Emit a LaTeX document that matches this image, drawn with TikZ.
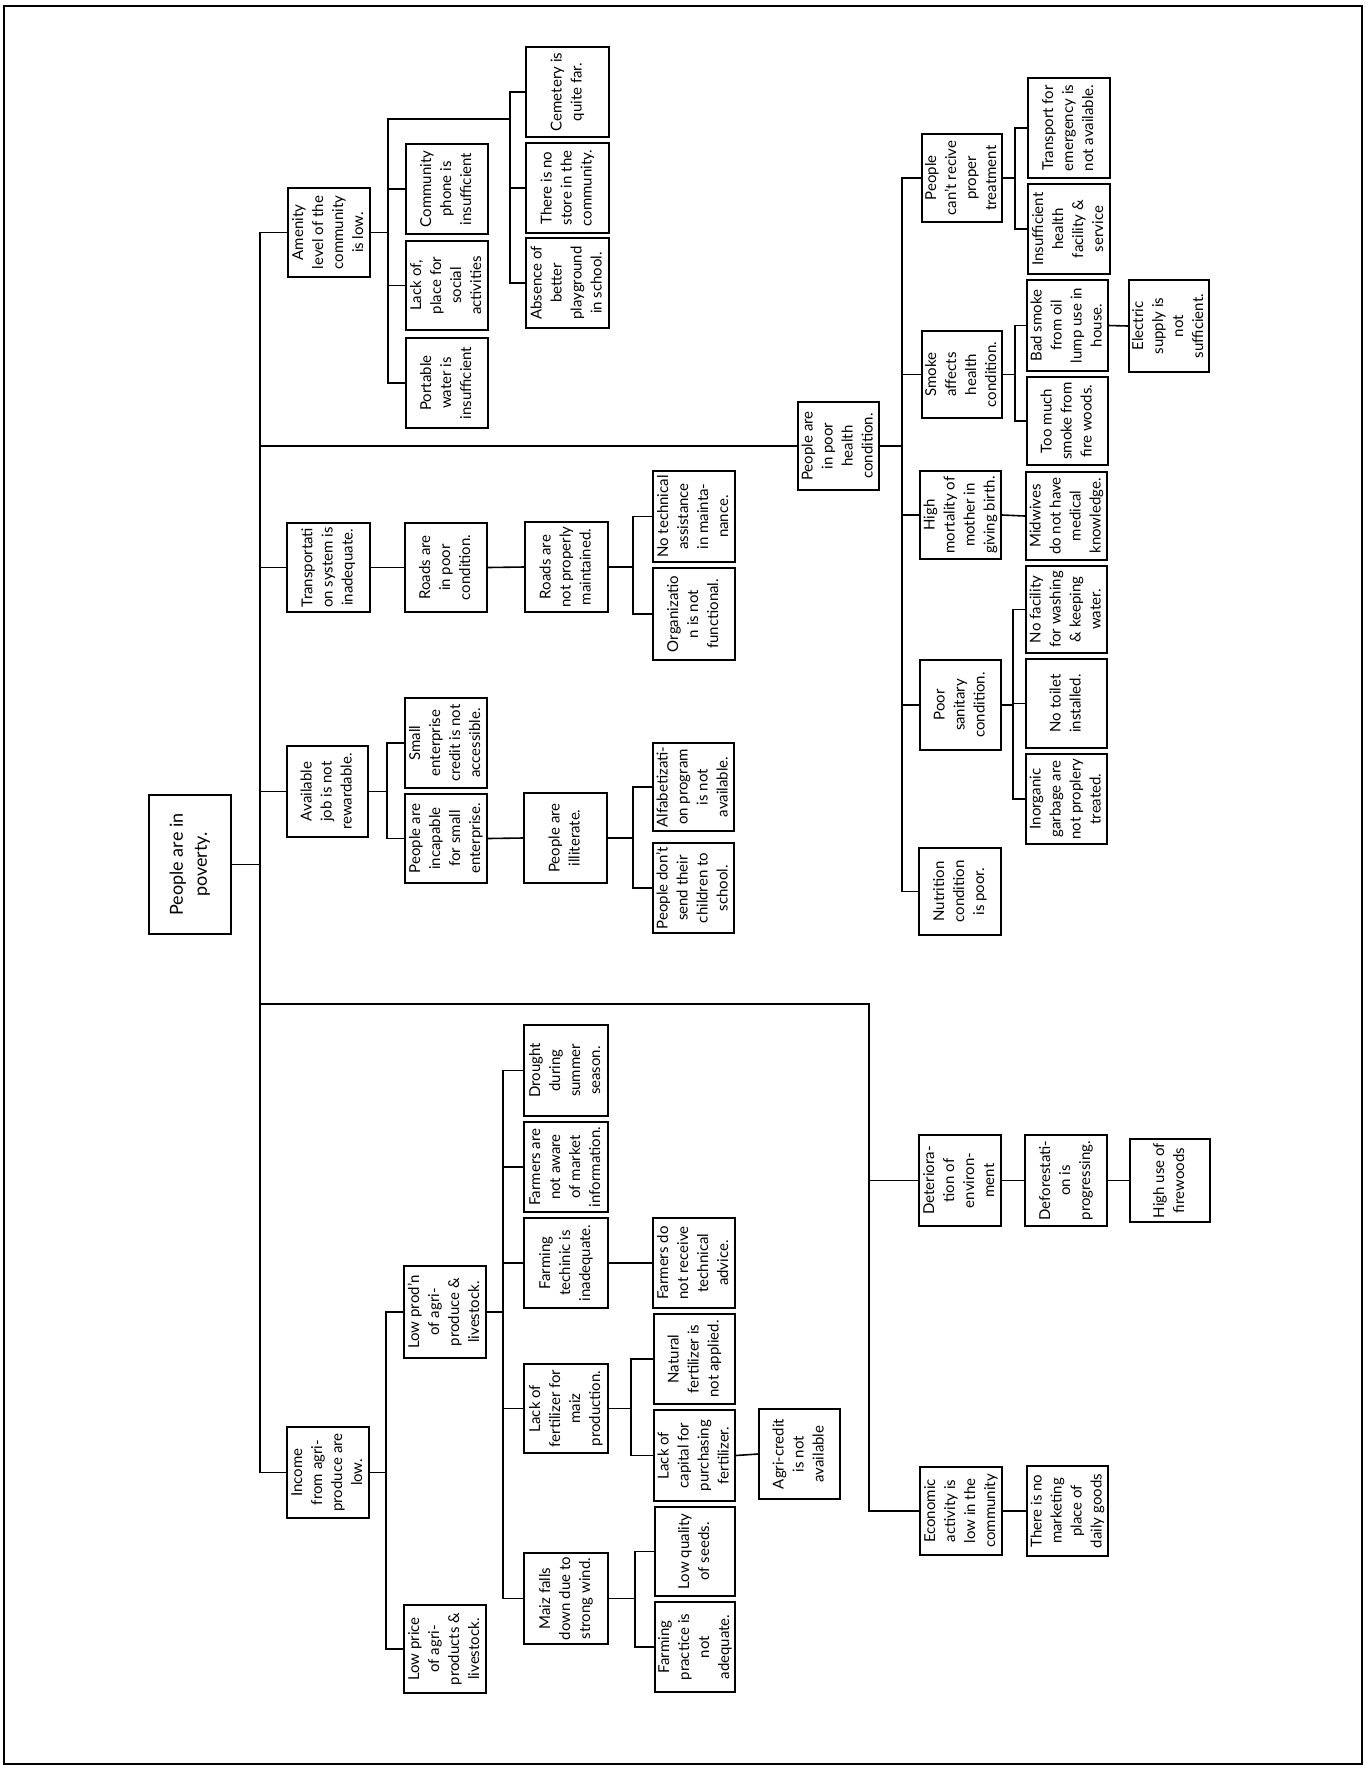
\documentclass[tikz,border=0pt]{standalone}
\usepackage{fontspec}
\setmainfont{Lato}
\usepackage{graphicx}
\newcommand\tbox[6]{\node[box,minimum width={(#4-#2)*0.5pt},minimum height={(#5-#3)*0.5pt}] (#1) at ({(#2+#4)/2},{(#3+#5)/2}) {\rotatebox{90}{\begin{tabular}{@{}c@{}}#6\end{tabular}}};}
\newcommand\busto[3]{\foreach \c in {#3} {\draw[conn] (#1.east) -| (#2,0 |- \c.west) -- (\c.west);}}
\begin{document}
\begin{tikzpicture}[x=0.5pt,y=-0.5pt,
  box/.style={draw,line width=0.9pt,inner sep=0pt,align=center,font=\fontsize{7.5}{10}\selectfont},
  conn/.style={line width=0.8pt}]
\useasboundingbox (0,0) rectangle (1366,1769);
\draw[line width=1pt] (4,6) rectangle (1362,1764);
% root
\node[box,minimum width=41pt,minimum height=69.5pt,font=\fontsize{9}{12}\selectfont] (root) at (190,864.5) {\rotatebox{90}{\begin{tabular}{@{}c@{}}People are in\\poverty.\end{tabular}}};
% level 1
\tbox{amen}{288}{188}{370}{277}{Amenity\\level of the\\community\\is low.}
\tbox{trans}{287}{523}{370}{612}{Transportati\\on system is\\inadequate.}
\tbox{job}{287}{746}{368}{837}{Available\\job is not\\rewardable.}
\tbox{income}{287}{1427}{369}{1518}{Income\\from agri-\\produce are\\low.}
\tbox{health}{798}{402}{879}{490}{People are\\in poor\\health\\condition.}
\tbox{deter}{919}{1135}{1001}{1226}{Deteriora-\\tion of\\environ-\\ment}
\tbox{econ}{920}{1467}{1002}{1555}{Economic\\activity is\\low in the\\community}
% amenity children
\tbox{comph}{406}{144}{488}{234}{Community\\phone is\\insufficient}
\tbox{lackplace}{406}{241}{488}{330}{Lack of,\\place for\\social\\activities}
\tbox{water}{406}{338}{488}{428}{Portable\\water is\\insufficient}
\tbox{cem}{526}{47}{609}{137}{Cemetery is\\quite far.}
\tbox{store}{526}{143}{609}{233}{There is no\\store in the\\community.}
\tbox{play}{526}{238}{609}{328}{Absence of\\better\\playground\\in school.}
% transport
\tbox{roads}{405}{523}{487}{612}{Roads are\\in poor\\condition.}
\tbox{maint}{525}{522}{608}{612}{Roads are\\not properly\\maintained.}
\tbox{notech}{653}{471}{735}{562}{No technical\\assistance\\in mainta-\\nance.}
\tbox{org}{653}{568}{735}{660}{Organizatio\\n is not\\functional.}
% job
\tbox{credit}{405}{698}{487}{788}{Small\\enterprise\\credit is not\\accessible.}
\tbox{incap}{405}{794}{487}{883}{People are\\incapable\\for small\\enterprise.}
\tbox{illit}{524}{793}{607}{883}{People are\\illiterate.}
\tbox{alfa}{653}{743}{734}{831}{Alfabetizati-\\on program\\is not\\available.}
\tbox{send}{653}{843}{734}{933}{People don't\\send their\\children to\\school.}
% health
\tbox{treat}{922}{134}{1002}{222}{People\\can't recive\\proper\\treatment}
\tbox{smoke}{922}{331}{1002}{418}{Smoke\\affects\\health\\condition.}
\tbox{mort}{920}{471}{1001}{559}{High\\mortality of\\mother in\\giving birth.}
\tbox{sanit}{920}{660}{1001}{750}{Poor\\sanitary\\condition.}
\tbox{nutr}{919}{848}{1001}{935}{Nutrition\\condition\\is poor.}
\tbox{temerg}{1028}{78}{1110}{178}{Transport for\\emergency is\\not available.}
\tbox{insuff}{1028}{184}{1110}{274}{Insufficient\\health\\facility \&\\service}
\tbox{bad}{1027}{280}{1108}{371}{Bad smoke\\from oil\\lump use in\\house.}
\tbox{toomuch}{1027}{377}{1108}{465}{Too much\\smoke from\\fire woods.}
\tbox{elec}{1129}{280}{1209}{372}{Electric\\supply is\\not\\sufficient.}
\tbox{midw}{1026}{472}{1107}{560}{Midwives\\do not have\\medical\\knowledge.}
\tbox{nofac}{1026}{566}{1107}{653}{No facility\\for washing\\\& keeping\\water.}
\tbox{toilet}{1026}{659}{1107}{748}{No toilet\\installed.}
\tbox{inorg}{1026}{754}{1107}{844}{Inorganic\\garbage are\\not proplery\\treated.}
% environment
\tbox{defor}{1025}{1135}{1107}{1226}{Deforestati-\\on is\\progressing.}
\tbox{firew}{1130}{1139}{1210}{1222}{High use of\\firewoods}
\tbox{market}{1027}{1466}{1108}{1556}{There is no\\marketing\\place of\\daily goods}
% income
\tbox{lowprod}{404}{1266}{486}{1358}{Low prod'n\\of agri-\\produce \&\\livestock.}
\tbox{lowprice}{404}{1605}{486}{1693}{Low price\\of agri-\\products \&\\livestock.}
\tbox{drought}{524}{1025}{608}{1116}{Drought\\during\\summer\\season.}
\tbox{aware}{524}{1122}{608}{1212}{Farmers are\\not aware\\of market\\information.}
\tbox{technic}{524}{1218}{608}{1308}{Farming\\techinic is\\inadequate.}
\tbox{lackfert}{524}{1364}{608}{1453}{Lack of\\fertilizer for\\maiz\\production.}
\tbox{maiz}{524}{1553}{608}{1644}{Maiz falls\\down due to\\strong wind.}
\tbox{advice}{653}{1218}{735}{1308}{Farmers do\\not receive\\technical\\advice.}
\tbox{natural}{654}{1314}{735}{1404}{Natural\\fertilizer is\\not applied.}
\tbox{capital}{654}{1410}{735}{1501}{Lack of\\capital for\\purchasing\\fertilizer.}
\tbox{agri}{759}{1409}{840}{1499}{Agri-credit\\is not\\available}
\tbox{seeds}{655}{1507}{735}{1596}{Low quality\\of seeds.}
\tbox{practice}{655}{1602}{735}{1692}{Farming\\practice is\\not\\adequate.}
% connectors: trunk
\busto{root}{260}{amen,health,trans,job,income}
\coordinate (dj) at (869,1004);
\draw[conn] (root.east) -| (260,0 |- dj) -- (dj) |- (deter.west);
\draw[conn] (dj) |- (econ.west);
% amenity
\busto{amen}{388}{comph,lackplace,water}
\coordinate (aj) at (388,119);
\coordinate (ak) at (510,119);
\draw[conn] (amen.east) -| (aj) -- (ak);
\foreach \c in {cem,store,play} {\draw[conn] (ak) |- (\c.west);}
% transport
\draw[conn] (trans.east) -- (roads.west);
\draw[conn] (roads.east) -- (maint.west);
\busto{maint}{633}{notech,org}
% job
\busto{job}{387}{credit,incap}
\draw[conn] (incap.east) -- (illit.west);
\busto{illit}{633}{alfa,send}
% health
\busto{health}{902}{treat,smoke,mort,sanit,nutr}
\busto{treat}{1015}{temerg,insuff}
\busto{smoke}{1015}{bad,toomuch}
\draw[conn] (bad.east) -- (elec.west);
\draw[conn] (mort.east) -- (midw.west);
\busto{sanit}{1013}{nofac,toilet,inorg}
% environment
\draw[conn] (deter.east) -- (defor.west);
\draw[conn] (defor.east) -- (firew.west);
\draw[conn] (econ.east) -- (market.west);
% income
\busto{income}{386}{lowprod,lowprice}
\busto{lowprod}{503}{drought,aware,technic,lackfert,maiz}
\draw[conn] (technic.east) -- (advice.west);
\busto{lackfert}{631}{natural,capital}
\draw[conn] (capital.east) -- (agri.west);
\busto{maiz}{635}{seeds,practice}
\end{tikzpicture}
\end{document}
